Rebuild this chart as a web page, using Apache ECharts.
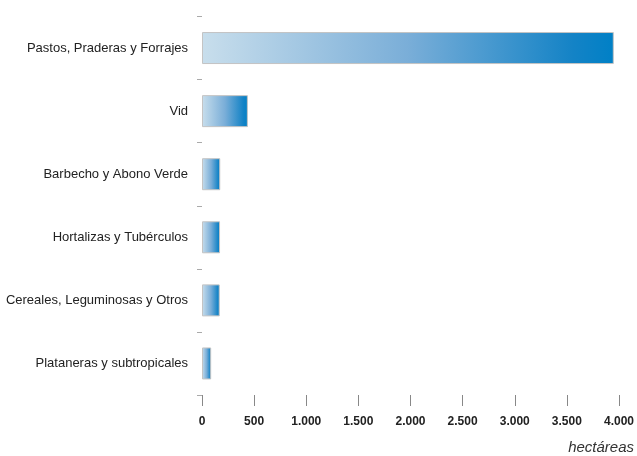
<!DOCTYPE html>
<html>
<head>
<meta charset="utf-8">
<script src="https://cdn.jsdelivr.net/npm/echarts@6/dist/echarts.min.js"></script>
<style>html,body{margin:0;padding:0;background:#fff}#c{width:637px;height:456px}</style>
</head>
<body>
<div id="c"></div>
<script>
const categories = ["Pastos, Praderas y Forrajes","Vid","Barbecho y Abono Verde","Hortalizas y Tubérculos","Cereales, Leguminosas y Otros","Plataneras y subtropicales"];
const values = [3950, 440, 175, 173, 170, 88];
const xTicks = {min: 0, max: 4000, interval: 500};

const chart = echarts.init(document.getElementById('c'));
chart.setOption({
  animation: false,
  grid: {left: 202, right: 18, top: 16.5, bottom: 61, outerBoundsMode: 'none', containLabel: false},
  xAxis: {
    type: 'value', min: xTicks.min, max: xTicks.max, interval: xTicks.interval,
    axisLine: {show: false},
    axisTick: {show: true, length: 11, lineStyle: {color: '#888', width: 1}},
    splitLine: {show: false},
    axisLabel: {
      margin: 21, color: '#222', fontWeight: 'bold', fontSize: 12, fontFamily: 'Liberation Sans, Arial',
      formatter: v => v.toLocaleString('de-DE')
    },
    name: 'hectáreas', nameLocation: 'end', nameGap: 15,
    nameTextStyle: {align: 'right', verticalAlign: 'top', padding: [45, 0, 0, 0], fontStyle: 'italic', fontSize: 15, color: '#333', fontFamily: 'Liberation Sans, Arial'}
  },
  yAxis: {
    type: 'category', data: categories, inverse: true,
    axisLine: {show: false},
    axisTick: {show: true, length: 5, lineStyle: {color: '#aaa'}},
    axisLabel: {margin: 14, color: '#222', fontSize: 13, fontFamily: 'Liberation Sans, Arial'}
  },
  series: [{
    type: 'bar', data: values, barWidth: 32,
    itemStyle: {
      color: new echarts.graphic.LinearGradient(0, 0, 1, 0, [
        {offset: 0, color: '#c8deec'},
        {offset: 0.5, color: '#7aaed8'},
        {offset: 0.9, color: '#1483c6'},
        {offset: 1, color: '#0080c6'}
      ]),
      borderColor: '#c4c4c4', borderWidth: 1
    }
  }]
});
</script>
</body>
</html>
